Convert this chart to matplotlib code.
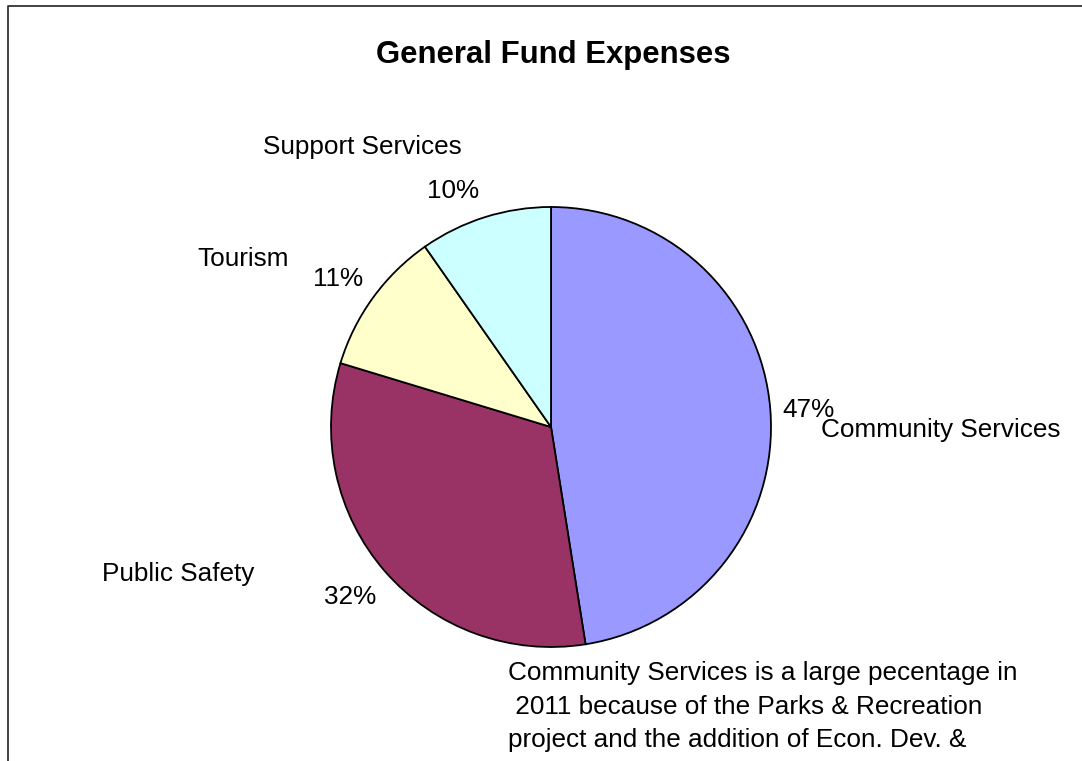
import matplotlib
matplotlib.use("Agg")
import matplotlib.pyplot as plt
from matplotlib.lines import Line2D

plt.rcParams['font.family'] = ['Liberation Sans', 'DejaVu Sans']

# Expense shares (percent of general fund)
categories = ["Community Services", "Public Safety", "Tourism", "Support Services"]
shares = [47.49, 32.2, 10.6, 9.71]
colors = ["#9999FF", "#993366", "#FFFFCC", "#CCFFFF"]

title = "General Fund Expenses"
note_lines = [
    "Community Services is a large pecentage in",
    " 2011 because of the Parks & Recreation",
    "project and the addition of Econ. Dev. &",
]

W, H = 1082, 761
fig = plt.figure(figsize=(W / 100, H / 100), dpi=100)


def fx(px):
    return px / W


def fy(py):
    return 1 - py / H


# Pie axes: centre (551, 427) px, radius 220 px
cx, cy, r = 551, 427, 220
ax = fig.add_axes([fx(cx - r), fy(cy + r), 2 * r / W, 2 * r / H])
ax.pie(shares, colors=colors, startangle=90, counterclock=False, radius=1,
       wedgeprops=dict(edgecolor="black", linewidth=1.3))
ax.set_xlim(-1, 1)
ax.set_ylim(-1, 1)
ax.set_aspect("auto")
ax.axis("off")

# Label placement (left edge x, baseline y in pixels)
name_pos = {
    "Community Services": (821, 437),
    "Public Safety": (102, 581),
    "Tourism": (197, 266),
    "Support Services": (263, 154),
}
pct_pos = {
    "Community Services": (782, 417),
    "Public Safety": (324, 604),
    "Tourism": (313, 286),
    "Support Services": (427, 198),
}

fs = 18.8
total = sum(shares)
for cat, val in zip(categories, shares):
    x, y = name_pos[cat]
    fig.text(fx(x), fy(y), cat, fontsize=fs, ha="left", va="baseline")
    x, y = pct_pos[cat]
    fig.text(fx(x), fy(y), f"{val / total * 100:.0f}%", fontsize=fs,
             ha="left", va="baseline")

fig.text(fx(553), fy(63), title, fontsize=22.4, fontweight="bold",
         ha="center", va="baseline")

for i, line in enumerate(note_lines):
    fig.text(fx(508), fy(680 + 33.5 * i), line, fontsize=fs,
             ha="left", va="baseline")

# Chart frame (left and top edges)
fig.add_artist(Line2D([fx(8), fx(8), fx(W)], [fy(H), fy(6), fy(6)],
                      color="#222222", linewidth=1.2, transform=fig.transFigure))

fig.savefig("out.png", dpi=100)
